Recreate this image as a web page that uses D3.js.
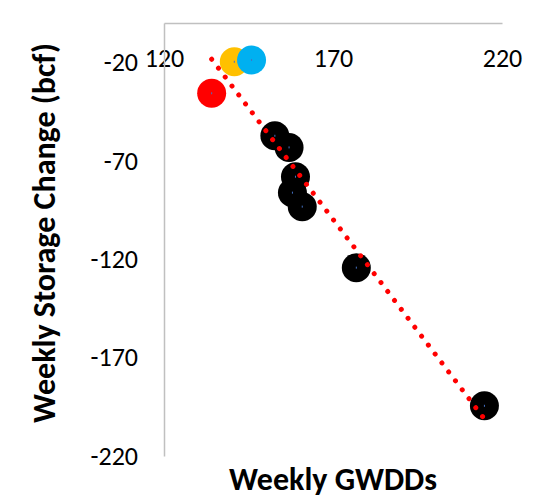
<!DOCTYPE html>
<html>
<head>
<meta charset="utf-8">
<script src="https://cdn.jsdelivr.net/npm/d3@7"></script>
<style>
  html, body { margin: 0; padding: 0; background: #fff; }
  svg { display: block; }
  text { font-family: Carlito, Calibri, Lato, "Open Sans", sans-serif; }
</style>
</head>
<body>
<svg id="chart" width="538" height="498"></svg>
<script>
// ---- Data ----
const gwdd    = [134.1, 140.8, 145.9, 152.8, 157.0, 158.9, 158.0, 160.9, 176.9, 214.8];
const storage = [-35.7, -19.7, -18.8, -57.3, -63.2, -78.1, -86.2, -93.3, -124.3, -194.5];
const pointColors = ["#ff0000", "#ffc000", "#00b0f0", "#000000", "#000000", "#000000", "#000000", "#000000", "#000000", "#000000"];
const xTicks = [120, 170, 220];
const yTicks = [-20, -70, -120, -170, -220];
const xTitle = "Weekly GWDDs";
const yTitle = "Weekly Storage Change (bcf)";

const svg = d3.select("#chart");
const x = d3.scaleLinear().domain([120, 220]).range([164, 502]);
const y = d3.scaleLinear().domain([0, -220]).range([23, 456]);

// Axes
const xAxis = d3.axisBottom(x).tickValues(xTicks).tickSize(0).tickSizeOuter(0).tickPadding(26).tickFormat(d3.format("d"));
const gx = svg.append("g").attr("transform", `translate(0,${y(0)})`).call(xAxis);
gx.select(".domain").attr("stroke", "#c0c0c0").attr("stroke-width", 1.5);
gx.selectAll("text").attr("font-size", 26).attr("fill", "#000");

const yAxis = d3.axisLeft(y).tickValues(yTicks).tickSize(0).tickSizeOuter(0).tickPadding(26).tickFormat(d => d3.format("d")(d).replace("−", "-"));
const gy = svg.append("g").attr("transform", `translate(${x(120)},0)`).call(yAxis);
gy.select(".domain").attr("stroke", "#c0c0c0").attr("stroke-width", 1.5);
gy.selectAll("text").attr("font-size", 26).attr("fill", "#000");

// Points
const pts = gwdd.map((g, i) => ({ x: g, y: storage[i], c: pointColors[i] }));
svg.append("g").selectAll("circle").data(pts).join("circle")
  .attr("cx", d => x(d.x)).attr("cy", d => y(d.y)).attr("r", 14.5)
  .attr("fill", d => d.c);
svg.append("g").selectAll("rect").data(pts).join("rect")
  .attr("x", d => x(d.x) - 0.5).attr("y", d => y(d.y) - 1).attr("width", 1).attr("height", 2)
  .attr("fill", "#4472c4");

// Linear trendline (least squares)
const mx = d3.mean(gwdd), my = d3.mean(storage);
const sxy = d3.sum(gwdd.map((g, i) => (g - mx) * (storage[i] - my)));
const sxx = d3.sum(gwdd.map(g => (g - mx) * (g - mx)));
const slope = sxy / sxx, icpt = my - slope * mx;
const x0 = d3.min(gwdd), x1 = d3.max(gwdd);
svg.append("line")
  .attr("x1", x(x0)).attr("y1", y(slope * x0 + icpt))
  .attr("x2", x(x1)).attr("y2", y(slope * x1 + icpt))
  .attr("stroke", "#ff0000").attr("stroke-width", 5)
  .attr("stroke-linecap", "round").attr("stroke-dasharray", "0.01 11.2");

// Titles
svg.append("text").attr("x", 333).attr("y", 490).attr("text-anchor", "middle")
  .attr("font-size", 32).attr("font-weight", "bold").text(xTitle);
svg.append("text").attr("transform", "translate(55,233) rotate(-90)").attr("text-anchor", "middle")
  .attr("font-size", 32).attr("font-weight", "bold").text(yTitle);
</script>
</body>
</html>
